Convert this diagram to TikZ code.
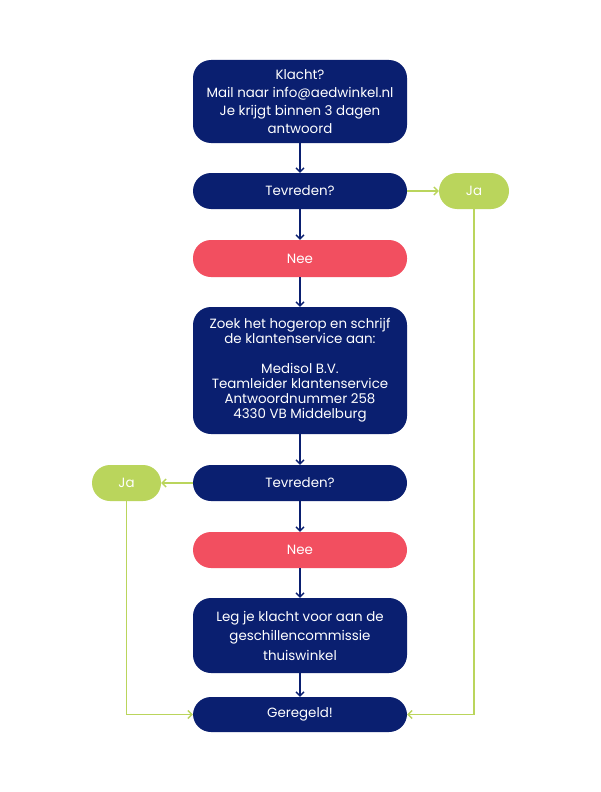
\documentclass[tikz,border=0pt]{standalone}
\usepackage{fontspec}
\setmainfont{Poppins}
\usetikzlibrary{arrows.meta}
\definecolor{navy}{HTML}{0A1F70}
\definecolor{rood}{HTML}{F24F60}
\definecolor{groen}{HTML}{BAD55C}
\begin{document}
\begin{tikzpicture}[x=1pt,y=-1pt,
  box/.style={rounded corners=18pt, minimum width=214pt, inner sep=0pt, align=center, text=white,
    font=\fontsize{13.4}{18}\selectfont},
  navybox/.style={box, fill=navy},
  redbox/.style={box, fill=rood},
  greenbox/.style={box, fill=groen, minimum width=70pt, minimum height=36pt},
  navyarrow/.style={draw=navy, line width=1.7pt, -{Straight Barb[length=4pt,width=8pt,line width=1.4pt]}},
  greenarrow/.style={draw=groen, line width=1.8pt, -{Straight Barb[length=4pt,width=8pt,line width=1.4pt]}}
]
\useasboundingbox (0,0) rectangle (600,792);
\fill[white] (0,0) rectangle (600,792);

\node[navybox, minimum height=83pt] (klacht) at (300,101.5) {Klacht?\\Mail naar info@aedwinkel.nl\\Je krijgt binnen 3 dagen\\antwoord};
\node[navybox, minimum height=36pt] (tev1) at (300,191) {Tevreden?};
\node[greenbox] (ja1) at (474,191) {Ja};
\node[redbox, minimum height=37pt] (nee1) at (300,258.5) {Nee};
\node[navybox, minimum height=127pt, font=\fontsize{13.4}{15}\selectfont] (zoek) at (300,370.5) {Zoek het hogerop en schrijf\\de klantenservice aan:\\ ~ \\Medisol B.V.\\Teamleider klantenservice\\Antwoordnummer 258\\4330 VB Middelburg};
\node[navybox, minimum height=36pt] (tev2) at (300,483) {Tevreden?};
\node[greenbox, minimum width=69pt] (ja2) at (126.5,483) {Ja};
\node[redbox, minimum height=36pt] (nee2) at (300,550) {Nee};
\node[navybox, minimum height=75pt, font=\fontsize{13.4}{19.5}\selectfont] (leg) at (300,635.5) {Leg je klacht voor aan de\\geschillencommissie\\thuiswinkel};
\node[navybox, minimum height=35pt] (ger) at (300,714.5) {Geregeld!};

\draw[navyarrow] (klacht) -- (tev1);
\draw[navyarrow] (tev1) -- (nee1);
\draw[navyarrow] (nee1) -- (zoek);
\draw[navyarrow] (zoek) -- (tev2);
\draw[navyarrow] (tev2) -- (nee2);
\draw[navyarrow] (nee2) -- (leg);
\draw[navyarrow] (leg) -- (ger);

\draw[greenarrow] (tev1) -- (ja1);
\draw[greenarrow] (tev2) -- (ja2);
\draw[greenarrow] (ja1.south) |- (ger.east);
\draw[greenarrow] (ja2.south) |- (ger.west);
\end{tikzpicture}
\end{document}
